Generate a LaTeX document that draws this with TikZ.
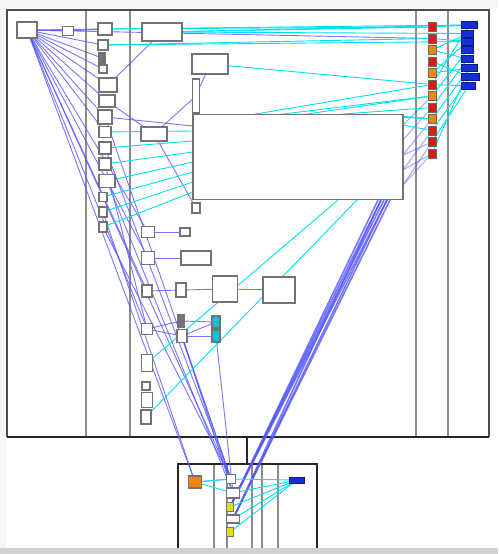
\documentclass[tikz,border=0pt]{standalone}
\usepackage{tikz}
\usetikzlibrary{backgrounds}

\definecolor{edgeblue}{RGB}{85,85,255}
\definecolor{edgecyan}{RGB}{0,225,240}
\definecolor{nodered}{RGB}{225,25,20}
\definecolor{nodeorange}{RGB}{240,135,10}
\definecolor{nodeblue}{RGB}{20,45,215}
\definecolor{nodeyellow}{RGB}{225,225,10}
\definecolor{nodecyan}{RGB}{0,200,210}

\tikzset{
	box/.style={draw=black!55, line width=1.3pt, fill=white, inner sep=0pt},
	bl/.style={edgeblue, line width=0.9pt, opacity=0.8},
	cy/.style={edgecyan, line width=0.9pt},
	lane/.style={black!45, line width=1.4pt}
}

\begin{document}
\begin{tikzpicture}[x=1pt, y=-1pt]
	\useasboundingbox (0,0) rectangle (498,554);
	\begin{pgfonlayer}{background}
		% Draw page and frames
		\fill[black!4] (0,0) rectangle (498,554);
		\fill[white] (6,8) rectangle (498,548);
		\fill[black!18] (0,548) rectangle (498,554);
		\foreach \x in {86, 130, 416, 448}
			\draw[lane] (\x,10) -- (\x,437);
		\draw[black!70, line width=1.8pt] (7,437) -- (7,10) -- (489,10) -- (489,437);
		\draw[black!85, line width=2.2pt] (7,437) -- (489,437);
		\draw[black!85, line width=2.2pt] (247,437) -- (247,464);
		\foreach \x in {214, 227, 252, 262, 278}
			\draw[lane] (\x,464) -- (\x,548);
		\draw[black!85, line width=2pt] (178,548) -- (178,464) -- (317,464) -- (317,548);
	\end{pgfonlayer}

	% Draw white boxes
	\foreach \n/\x/\y/\w/\h in {A/27/30/20/16, l2/68/31/11/9,
		c1/105/29/14/12, c2/103/45/10/10, c4/103/69/8/8, c5/108/85/18/14,
		c6/107/101/16/12, c7/105/117/14/14, c8/105/132/12/11, c9/105/148/12/12,
		c10/105/164/12/12, c11/107/181/16/13, c12/103/197/8/9, c13/103/212/8/10,
		c14/103/227/8/10,
		d1/162/32/40/18, d2/210/64/36/20, d3/196/96/7/34, big/298/157/210/85,
		d4/154/134/26/14, d5/196/208/8/10,
		e1/148/232/13/11, e2/185/232/10/8, f1/148/258/13/13, f2/196/258/30/14,
		g1/147/291/10/12, g2/181/290/10/14, g3/225/289/25/26, g4/279/290/32/26,
		h1/147/329/11/11, h3/182/336/10/13,
		k1/147/363/11/17, k2/146/386/8/8, k3/147/400/11/15, k4/146/417/10/14,
		w1/231/479/9/9, w2/233/493/13/10, w3/233/519/13/8}
		\node[box, minimum width=\w, minimum height=\h] (\n) at (\x,\y) {};
	\node[box, fill=black!55, minimum width=6, minimum height=10] (c3) at (102,58) {};
	\node[box, fill=black!55, minimum width=6, minimum height=12] (h2) at (181,321) {};
	\node[box, fill=nodecyan, minimum width=8, minimum height=12] (h4) at (216,322) {};
	\node[box, fill=nodecyan, minimum width=8, minimum height=12] (h5) at (216,336) {};

	% Draw red and orange column
	\foreach \i/\c in {1/nodered, 2/nodered, 3/nodeorange, 4/nodered, 5/nodeorange,
		6/nodered, 7/nodeorange, 8/nodered, 9/nodeorange, 10/nodered, 11/nodered, 12/nodered}
		\node[box, draw=black!60, line width=1pt, fill=\c, minimum width=8, minimum height=9]
			(r\i) at (432,{27+11.5*(\i-1)}) {};

	% Draw blue column
	\foreach \i/\y/\w in {1/25/16, 2/33.5/12, 3/41.5/12, 4/50/12, 5/59/12, 6/68/16, 7/77/18, 8/86/14}
		\node[box, draw=nodeblue!60!black, line width=1pt, fill=nodeblue, minimum width=\w,
			minimum height=7, anchor=west] (u\i) at (461,\y) {};

	% Draw bottom boxes
	\node[box, fill=nodeorange, minimum width=13, minimum height=12] (o1) at (195,482) {};
	\node[box, fill=nodeyellow, minimum width=7, minimum height=9] (y1) at (230,507) {};
	\node[box, fill=nodeyellow, minimum width=7, minimum height=9] (y2) at (230,532) {};
	\node[box, draw=nodeblue!60!black, line width=1pt, fill=nodeblue, minimum width=15,
		minimum height=6] (v1) at (297,480) {};

	% Points on the big box
	\foreach \n/\x/\y in {bl1/193/126, bl2/193/131, bl3/193/141, bl4/193/152, bl5/193/162,
		bl6/193/172, bl7/193/182, bl8/193/192,
		bt1/250/115, bt2/275/115, bt3/300/115, bt4/330/115, bt5/360/115, bt6/390/115,
		br1/403/125, br2/403/140, br3/403/155, br4/403/170, br5/403/185,
		bb1/338/200, bb2/357/200, bb3/378/200, bb4/381/200, bb5/384/200, bb6/387/200, bb7/390/200}
		\coordinate (\n) at (\x,\y);

	\begin{pgfonlayer}{background}
		% Draw blue edges
		\foreach \a/\b in {A/l2, A/c1, A/c2, A/c3, A/c4, A/c5, A/c6, A/c7, A/c8, A/r2,
			A/e1, A/f1, A/g1, A/h1, A/o1, A/w1, l2/c1,
			c5/d1, c6/d4, d4/d3, d4/d5, c7/bl1, d3/d2,
			c7/w1, c9/w1, c11/w2, c13/o1, c14/w1, c10/h1,
			e1/e2, f1/f2, g1/g2, g2/g3, g3/g4, h1/h2, h1/h3, h2/h4, h3/h4, h3/h5,
			h3/w1, h3/w2, h5/w2, o1/w1}
			\draw[bl] (\a) -- (\b);
		\foreach \a/\b in {r8/br2, r9/br3, r10/br4, r11/br5, r12/br5, r7/br1, r12/br4, r11/br3}
			\draw[bl, opacity=0.45, line width=1.2pt] (\a) -- (\b);
		\foreach \a/\b in {bb3/y1, bb4/w3, bb5/y1, bb6/w3, bb7/w3, bb4/y1, bb6/y1}
			\draw[bl, line width=1.6pt] (\a) -- (\b);

		% Draw cyan edges
		\foreach \a/\b in {d1/u1, d1/u2, d1/r1, c1/u1, c1/r1, c2/r2, c2/u3, d2/r6,
			c8/bl2, c9/bl3, c10/bl4, c11/bl5, c12/bl6, c13/bl7, c14/bl8,
			bt1/r6, bt2/r7, bt3/r7, bt4/r8, bt5/r9, bt6/r9, br1/r10,
			k1/bb1, k4/bb2,
			r1/u1, r2/u3, r3/u2, r4/u7, r5/u3, r6/u1, r7/u4, r8/u5, r9/u6,
			r10/u7, r11/u8, r12/u6, r6/u8, r5/u6, r3/u5,
			o1/w1, o1/w2, v1/w1, v1/w2, v1/y1, v1/w3, v1/y2}
			\draw[cy] (\a) -- (\b);
	\end{pgfonlayer}
\end{tikzpicture}
\end{document}
